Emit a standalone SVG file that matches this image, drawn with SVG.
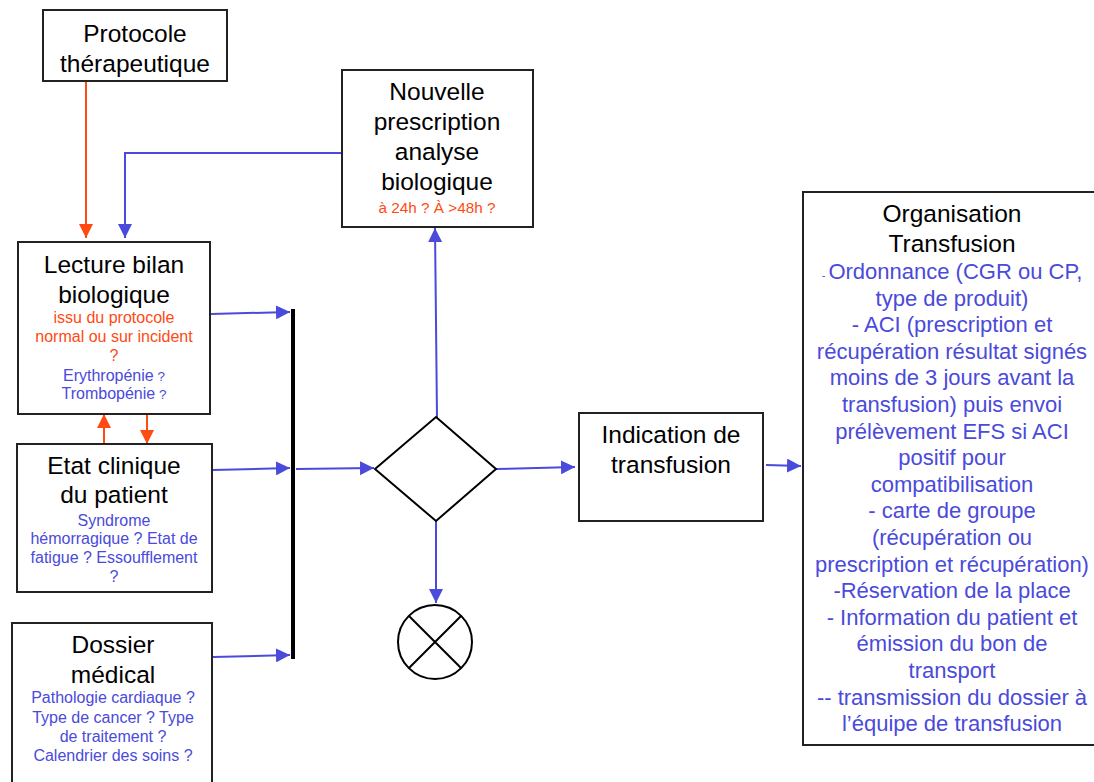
<svg xmlns="http://www.w3.org/2000/svg" width="1094" height="782" viewBox="0 0 1094 782">
<style>
.box{fill:#fff;stroke:#222;stroke-width:2}
.t{font-family:"Liberation Sans",Arial,sans-serif;font-size:24.5px;fill:#000;text-anchor:middle}
.s{font-family:"Liberation Sans",Arial,sans-serif;font-size:16px;text-anchor:middle}
.b{fill:#4a4adb}
.o{fill:#ff4a12}
.org{font-family:"Liberation Sans",Arial,sans-serif;font-size:22px;fill:#4a4adb;text-anchor:middle}
.cb{fill:none;stroke:#4a4adb;stroke-width:2}
.cr{fill:none;stroke:#ff4a12;stroke-width:2}
</style>
<defs>
<marker id="ab" viewBox="0 0 10 10" refX="10" refY="5" markerWidth="14" markerHeight="14" markerUnits="userSpaceOnUse" orient="auto"><path d="M0,0 L10,5 L0,10 z" fill="#4a4adb"/></marker>
<marker id="ar" viewBox="0 0 10 10" refX="10" refY="5" markerWidth="14" markerHeight="14" markerUnits="userSpaceOnUse" orient="auto"><path d="M0,0 L10,5 L0,10 z" fill="#ff4a12"/></marker>
</defs>
<rect width="1094" height="782" fill="#fff"/>

<g id="connectors">
<path class="cr" d="M86,81 V238" marker-end="url(#ar)"/>
<path class="cb" d="M342,153 H125 V238" marker-end="url(#ab)"/>
<path class="cr" d="M104,444 V414" marker-end="url(#ar)"/>
<path class="cr" d="M147,414 V444" marker-end="url(#ar)"/>
<path class="cb" d="M211,314 L290,312" marker-end="url(#ab)"/>
<path class="cb" d="M213,470 L290,468" marker-end="url(#ab)"/>
<path class="cb" d="M213,657 L290,655" marker-end="url(#ab)"/>
<path class="cb" d="M296,469 L374,468" marker-end="url(#ab)"/>
<path class="cb" d="M437,417 L435,228" marker-end="url(#ab)"/>
<path class="cb" d="M436,521 V603" marker-end="url(#ab)"/>
<path class="cb" d="M496,469 L575,467" marker-end="url(#ab)"/>
<path class="cb" d="M766,465 L801,466" marker-end="url(#ab)"/>
</g>

<g id="protocole">
<rect class="box" x="43" y="10" width="184" height="71"/>
<text class="t" x="135" y="42">Protocole</text>
<text class="t" x="135" y="72">thérapeutique</text>
</g>

<g id="nouvelle">
<rect class="box" x="342" y="70" width="191" height="157"/>
<text class="t" x="437" y="100">Nouvelle</text>
<text class="t" x="437" y="130">prescription</text>
<text class="t" x="437" y="160">analyse</text>
<text class="t" x="437" y="190">biologique</text>
<text class="s o" x="437" y="213" style="font-size:15.3px">à 24h ? À &gt;48h ?</text>
</g>

<g id="lecture">
<rect class="box" x="18" y="242" width="192" height="172"/>
<text class="t" x="114" y="273">Lecture bilan</text>
<text class="t" x="114" y="303">biologique</text>
<text class="s o" x="114" y="323">issu du protocole</text>
<text class="s o" x="114" y="342">normal ou sur incident</text>
<text class="s o" x="114" y="361">?</text>
<text class="s b" x="114" y="381">Erythropénie<tspan font-size="13.5"> ?</tspan></text>
<text class="s b" x="114" y="399">Trombopénie<tspan font-size="13.5"> ?</tspan></text>
</g>

<g id="etat">
<rect class="box" x="17" y="444" width="195" height="148"/>
<text class="t" x="114" y="474">Etat clinique</text>
<text class="t" x="114" y="503">du patient</text>
<text class="s b" x="114" y="526">Syndrome</text>
<text class="s b" x="114" y="544">hémorragique ? Etat de</text>
<text class="s b" x="114" y="563">fatigue ? Essoufflement</text>
<text class="s b" x="114" y="582">?</text>
</g>

<g id="dossier">
<rect class="box" x="12" y="623" width="200" height="170"/>
<text class="t" x="113" y="653">Dossier</text>
<text class="t" x="113" y="683">médical</text>
<text class="s b" x="113" y="703">Pathologie cardiaque ?</text>
<text class="s b" x="113" y="723">Type de cancer ? Type</text>
<text class="s b" x="113" y="742">de traitement ?</text>
<text class="s b" x="113" y="761">Calendrier des soins ?</text>
</g>

<g id="barre">
<rect x="291" y="309" width="4" height="350" fill="#000"/>
</g>

<g id="decision">
<polygon points="436,417 496,469 436,521 375,469" fill="#fff" stroke="#000" stroke-width="2"/>
</g>

<g id="fin">
<circle cx="435" cy="642" r="37" fill="#fff" stroke="#000" stroke-width="2"/>
<path d="M409,616 L461,668 M461,616 L409,668" stroke="#000" stroke-width="2"/>
</g>

<g id="indication">
<rect class="box" x="579" y="413" width="184" height="108"/>
<text class="t" x="671" y="443">Indication de</text>
<text class="t" x="671" y="473">transfusion</text>
</g>

<g id="organisation">
<rect class="box" x="803" y="192" width="300" height="553"/>
<text class="t" x="952" y="222">Organisation</text>
<text class="t" x="952" y="252">Transfusion</text>
<text class="org" x="952" y="279"><tspan font-size="11">- </tspan>Ordonnance (CGR ou CP,</text>
<text class="org" x="952" y="305.6">type de produit)</text>
<text class="org" x="952" y="332.2">- ACI (prescription et</text>
<text class="org" x="952" y="358.8">récupération résultat signés</text>
<text class="org" x="952" y="385.4">moins de 3 jours avant la</text>
<text class="org" x="952" y="412">transfusion) puis envoi</text>
<text class="org" x="952" y="438.6">prélèvement EFS si ACI</text>
<text class="org" x="952" y="465.2">positif pour</text>
<text class="org" x="952" y="491.8">compatibilisation</text>
<text class="org" x="952" y="518.4">- carte de groupe</text>
<text class="org" x="952" y="545">(récupération ou</text>
<text class="org" x="952" y="571.6">prescription et récupération)</text>
<text class="org" x="952" y="598.2">-Réservation de la place</text>
<text class="org" x="952" y="624.8">- Information du patient et</text>
<text class="org" x="952" y="651.4">émission du bon de</text>
<text class="org" x="952" y="678">transport</text>
<text class="org" x="952" y="704.6">-- transmission du dossier à</text>
<text class="org" x="952" y="731.2">l’équipe de transfusion</text>
</g>
</svg>
